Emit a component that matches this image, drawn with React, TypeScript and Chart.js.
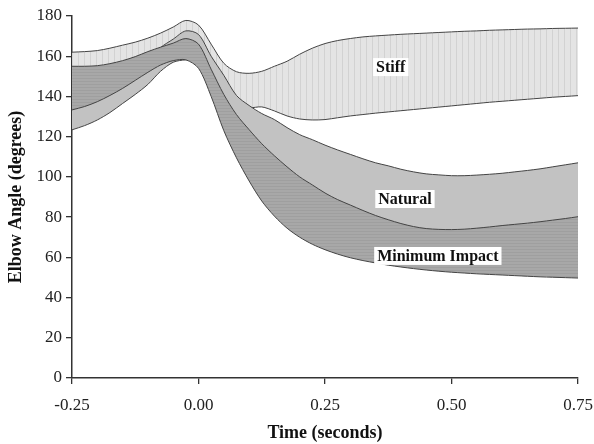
import React, { useEffect, useRef } from "react";
import { Chart, registerables } from "chart.js";

Chart.register(...registerables);

// Time (seconds)
const TIME = [
  -0.25, -0.225, -0.2, -0.175, -0.15, -0.125, -0.1, -0.075, -0.05, -0.025,
  0, 0.025, 0.05, 0.075, 0.1, 0.125, 0.15, 0.175, 0.2, 0.225,
  0.25, 0.275, 0.3, 0.325, 0.35, 0.375, 0.4, 0.425, 0.45, 0.475,
  0.5, 0.525, 0.55, 0.575, 0.6, 0.625, 0.65, 0.675, 0.7, 0.725, 0.75,
];

// Stiff band
const STIFF_UPPER = [
  162, 162.3, 162.8, 164, 165.5, 167, 169, 171.5, 174.5, 177.8,
  175.5, 166, 156.5, 152.3, 151.5, 152.5, 155, 157.5, 161, 164,
  166.3, 167.8, 168.8, 169.6, 170.1, 170.5, 170.9, 171.2, 171.5, 171.8,
  172.1, 172.4, 172.6, 172.9, 173.1, 173.3, 173.5, 173.6, 173.8, 173.9, 174,
];
const STIFF_LOWER = [
  150, 150.5, 151, 152, 153, 154.5, 156, 158, 161, 164,
  162, 150, 142, 137.5, 134.5, 134.8, 132.8, 130.3, 128.8, 128.3,
  128.5, 129.4, 130.3, 131, 131.7, 132.3, 132.9, 133.5, 134.1, 134.7,
  135.3, 135.9, 136.5, 137.1, 137.6, 138.1, 138.6, 139.1, 139.6, 140, 140.4,
];

// Natural band
const NATURAL_UPPER = [
  147, 147.5, 148.5, 150, 152, 154.5, 158, 164.3, 168.5, 172.6,
  170.8, 160, 150.5, 140.5, 135.5, 131.5, 128.5, 124.5, 121, 118.5,
  115.8, 113.4, 111.2, 109, 107, 105.5, 103.8, 102.5, 101.5, 101,
  100.6, 100.6, 100.9, 101.3, 101.8, 102.5, 103.2, 104, 105, 106, 107,
];
const NATURAL_LOWER = [
  123.4, 125.5, 128.3, 132, 136.5, 141, 146, 152.5, 157, 158.2,
  158, 146, 131, 119, 110, 101, 94, 88, 84, 80,
  77, 74.5, 72.5, 70.5, 69, 67.5, 66.5, 65.5, 65, 64.5,
  64, 64, 64, 64.2, 64.4, 64.7, 65, 65.3, 65.7, 66, 66.5,
];

// Minimum Impact band
const MIN_IMPACT_UPPER = [
  155, 155, 155.3, 156.3, 157.8, 159.8, 162.3, 164.5, 166.5, 168.8,
  166, 153.5, 141, 131, 123.5, 116.5, 110.5, 105, 100, 96,
  92, 88.7, 86, 83.3, 80.8, 78.7, 76.8, 75.3, 74.3, 73.9,
  73.8, 74, 74.5, 75.1, 75.8, 76.4, 77, 77.7, 78.5, 79.3, 80.2,
];
const MIN_IMPACT_LOWER = [
  133.3, 135, 137.4, 140.5, 144, 148, 152, 155.6, 157.8, 158.2,
  154, 140, 123, 109.5, 98, 88, 80.5, 74.5, 70, 66.5,
  63.8, 61.6, 59.8, 58.4, 57.2, 56.1, 55.2, 54.4, 53.7, 53.1,
  52.6, 52.2, 51.8, 51.5, 51.2, 50.9, 50.6, 50.3, 50.1, 49.9, 49.7,
];

const X_TICKS = [-0.25, 0, 0.25, 0.5, 0.75];
const Y_TICKS = [0, 20, 40, 60, 80, 100, 120, 140, 160, 180];

const BAND_LABELS = ["Stiff", "Natural", "Minimum Impact"];
const BAND_LABEL_T = [0.38, 0.408, 0.473];
const BAND_LABEL_V = [154.6, 89, 60.7];

const SERIF = "'Liberation Serif', 'Times New Roman', serif";

function makeStripePattern(
  ctx: CanvasRenderingContext2D,
  vertical: boolean,
  base: string,
  stripe: string,
  period: number
) {
  const c = document.createElement("canvas");
  c.width = vertical ? period : 4;
  c.height = vertical ? 4 : period;
  const g = c.getContext("2d")!;
  g.fillStyle = base;
  g.fillRect(0, 0, c.width, c.height);
  g.fillStyle = stripe;
  if (vertical) g.fillRect(0, 0, 1, c.height);
  else g.fillRect(0, 0, c.width, 1);
  return ctx.createPattern(c, "repeat")!;
}

const bandLabelPlugin = {
  id: "bandLabels",
  afterDatasetsDraw(chart: any) {
    const { ctx, scales } = chart;
    const xs = scales.x;
    const ys = scales.y;
    ctx.save();
    ctx.font = `bold 16px ${SERIF}`;
    ctx.textAlign = "center";
    ctx.textBaseline = "middle";
    BAND_LABELS.forEach((txt, i) => {
      const px = xs.getPixelForValue(BAND_LABEL_T[i]);
      const py = ys.getPixelForValue(BAND_LABEL_V[i]);
      const w = ctx.measureText(txt).width;
      ctx.fillStyle = "#ffffff";
      ctx.fillRect(px - w / 2 - 3, py - 9, w + 6, 18);
      ctx.fillStyle = "#111111";
      ctx.fillText(txt, px, py + 1);
    });
    ctx.restore();
  },
};

export default function App() {
  const ref = useRef<HTMLCanvasElement>(null);

  useEffect(() => {
    document.body.style.margin = "0";
    const canvas = ref.current!;
    const ctx = canvas.getContext("2d")!;
    const stiffPattern = makeStripePattern(ctx, true, "#e4e4e4", "#d2d2d2", 6);
    const miPattern = makeStripePattern(ctx, false, "#a8a8a8", "#9f9f9f", 3);

    const pts = (arr: number[]) => arr.map((y, i) => ({ x: TIME[i], y }));
    const base = {
      borderColor: "#444444",
      borderWidth: 1,
      pointRadius: 0,
      tension: 0.3,
    };

    const chart = new Chart(ctx, {
      type: "line",
      data: {
        datasets: [
          { ...base, label: "Minimum Impact lower", data: pts(MIN_IMPACT_LOWER), fill: false },
          { ...base, label: "Minimum Impact upper", data: pts(MIN_IMPACT_UPPER), fill: "-1", backgroundColor: miPattern },
          { ...base, label: "Natural lower", data: pts(NATURAL_LOWER), fill: false },
          { ...base, label: "Natural upper", data: pts(NATURAL_UPPER), fill: "-1", backgroundColor: "#c2c2c2" },
          { ...base, label: "Stiff lower", data: pts(STIFF_LOWER), fill: false },
          { ...base, label: "Stiff upper", data: pts(STIFF_UPPER), fill: "-1", backgroundColor: stiffPattern },
        ] as any,
      },
      options: {
        responsive: false,
        animation: false,
        layout: { padding: { top: 16, right: 16, left: 0, bottom: 0 } },
        plugins: { legend: { display: false }, tooltip: { enabled: false } },
        scales: {
          x: {
            type: "linear",
            min: -0.25,
            max: 0.75,
            afterBuildTicks: (s: any) => {
              s.ticks = X_TICKS.map((v) => ({ value: v }));
            },
            afterFit: (s: any) => {
              s.height = 66;
              s.paddingLeft = 0;
              s.paddingRight = 0;
            },
            grid: { display: true, drawOnChartArea: false, drawTicks: true, tickLength: 6, color: "#333", lineWidth: 1.3 },
            border: { display: true, color: "#333", width: 1.5 },
            ticks: {
              padding: 11,
              color: "#222",
              font: { family: SERIF, size: 17 },
              maxRotation: 0,
              callback: (v: any) => Number(v).toFixed(2),
            },
            title: {
              display: true,
              text: "Time (seconds)",
              color: "#111",
              font: { family: SERIF, size: 18, weight: "bold" },
              padding: { top: 0, bottom: 0 },
            },
          },
          y: {
            type: "linear",
            min: 0,
            max: 180,
            afterBuildTicks: (s: any) => {
              s.ticks = Y_TICKS.map((v) => ({ value: v }));
            },
            afterFit: (s: any) => {
              s.width = 72;
            },
            grid: { display: true, drawOnChartArea: false, drawTicks: true, tickLength: 6, color: "#333", lineWidth: 1.3 },
            border: { display: true, color: "#333", width: 1.5 },
            ticks: {
              padding: 4,
              color: "#222",
              font: { family: SERIF, size: 17 },
            },
            title: {
              display: true,
              text: "Elbow Angle (degrees)",
              color: "#111",
              font: { family: SERIF, size: 18, weight: "bold" },
              padding: { top: 6, bottom: 0 },
            },
          },
        },
      } as any,
      plugins: [bandLabelPlugin],
    });
    return () => chart.destroy();
  }, []);

  return (
    <canvas
      ref={ref}
      width={594}
      height={444}
      style={{ display: "block", position: "absolute", left: 0, top: 0 }}
    />
  );
}
